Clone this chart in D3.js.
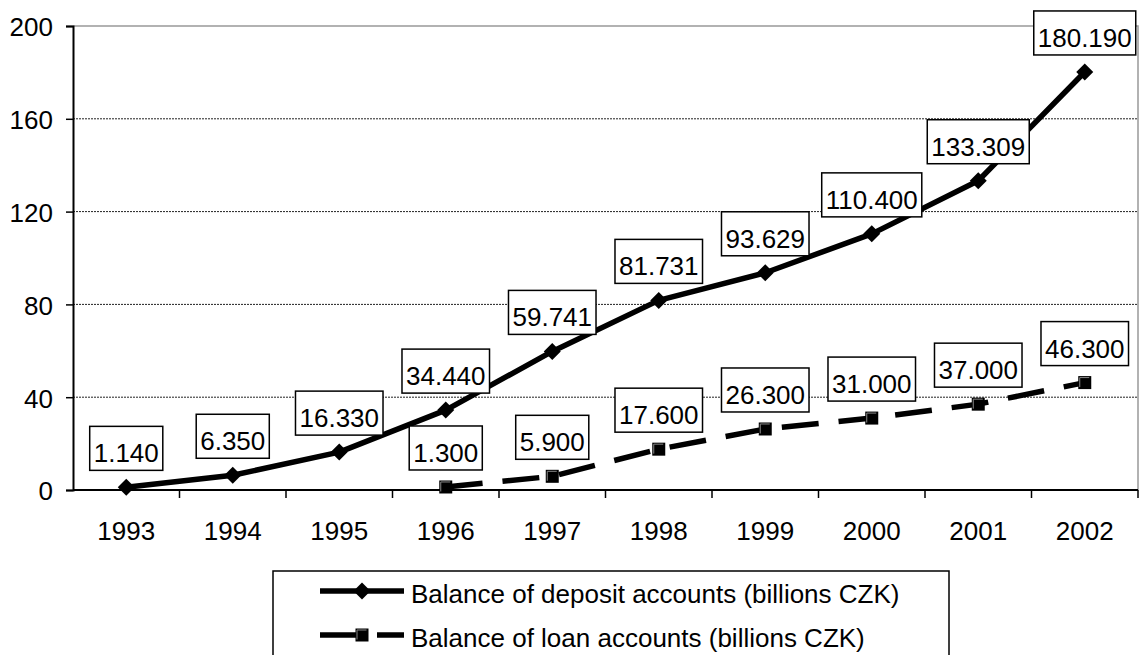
<!DOCTYPE html>
<html>
<head>
<meta charset="utf-8">
<script src="https://cdn.jsdelivr.net/npm/d3@7"></script>
<style>
  body { margin: 0; background: #fff; }
  svg { display: block; font-family: Arial, "Liberation Sans", sans-serif; }
</style>
</head>
<body>
<div class="chart"></div>
<script>
const years = ['1993', '1994', '1995', '1996', '1997', '1998', '1999', '2000', '2001', '2002']
const deposits = [1.140, 6.350, 16.330, 34.440, 59.741, 81.731, 93.629, 110.400, 133.309, 180.190]
const loans = [null, null, null, 1.300, 5.900, 17.600, 26.300, 31.000, 37.000, 46.300]
const yTicks = [0, 40, 80, 120, 160, 200]
const seriesNames = ['Balance of deposit accounts (billions CZK)', 'Balance of loan accounts (billions CZK)']

const WIDTH = 1140
const HEIGHT = 655
const FONT_SIZE = 26
const plot = { left: 73, right: 1138, top: 26, bottom: 490 }
const DASH = '37,20'

const svg = d3.select('.chart').append('svg')
	.attr('width', WIDTH)
	.attr('height', HEIGHT)

const scaleX = d3.scaleBand().domain(years).range([plot.left, plot.right]).padding(0)
const scaleY = d3.scaleLinear().domain([0, 200]).range([plot.bottom, plot.top])
const fmt = d3.format('.3f')
const cx = d => scaleX(d.year) + scaleX.bandwidth() / 2

const depositData = years.map((year, i) => ({ year, value: deposits[i] }))
const loanData = years.map((year, i) => ({ year, value: loans[i] })).filter(d => d.value != null)

// gridlines
svg.append('g').selectAll('line')
	.data(yTicks.filter(t => t > 0 && t < 200))
	.join('line')
	.attr('x1', plot.left).attr('x2', plot.right)
	.attr('y1', d => scaleY(d)).attr('y2', d => scaleY(d))
	.attr('stroke', '#222').attr('stroke-width', 1).attr('stroke-dasharray', '2,1')

// top and right border in grey
svg.append('path')
	.attr('d', `M${plot.left},${scaleY(200)}H${plot.right}V${plot.bottom}`)
	.attr('fill', 'none').attr('stroke', '#999').attr('stroke-width', 1.5)

// y axis
const axisLeft = d3.axisLeft(scaleY).tickValues(yTicks).tickSize(7).tickPadding(13)
const gy = svg.append('g').attr('transform', `translate(${plot.left},0)`).call(axisLeft)
gy.select('.domain').attr('stroke', '#000').attr('stroke-width', 2)
gy.selectAll('.tick line').attr('stroke', '#000').attr('stroke-width', 1.5)
gy.selectAll('.tick text')
	.attr('font-size', FONT_SIZE).attr('font-family', 'Arial, "Liberation Sans", sans-serif')
	.attr('fill', '#000').attr('dy', '0.38em')

// x axis: ticks between categories
const gx = svg.append('g').attr('transform', `translate(0,${plot.bottom})`)
gx.append('line')
	.attr('x1', plot.left).attr('x2', plot.right)
	.attr('stroke', '#000').attr('stroke-width', 2)
gx.selectAll('.tk')
	.data(years.slice(1).concat(['end']))
	.join('line')
	.attr('class', 'tk')
	.attr('x1', (d, i) => plot.left + (i + 1) * scaleX.bandwidth())
	.attr('x2', (d, i) => plot.left + (i + 1) * scaleX.bandwidth())
	.attr('y1', 0).attr('y2', 8)
	.attr('stroke', '#000').attr('stroke-width', 1.5)
gx.selectAll('text')
	.data(years)
	.join('text')
	.attr('x', d => scaleX(d) + scaleX.bandwidth() / 2)
	.attr('y', 50)
	.attr('text-anchor', 'middle')
	.attr('font-size', FONT_SIZE)
	.text(d => d)

// lines
const line = d3.line().x(cx).y(d => scaleY(d.value))

svg.append('path')
	.datum(depositData)
	.attr('d', line)
	.attr('fill', 'none').attr('stroke', '#000').attr('stroke-width', 5.5)
	.attr('stroke-linejoin', 'round')

svg.append('path')
	.datum(loanData)
	.attr('d', line)
	.attr('fill', 'none').attr('stroke', '#000').attr('stroke-width', 5.5)
	.attr('stroke-dasharray', DASH)

// markers
function diamond(g, x, y) {
	const r = 8.5
	g.append('path')
		.attr('d', `M${x},${y - r}L${x + r},${y}L${x},${y + r}L${x - r},${y}Z`)
		.attr('fill', '#000')
}
function square(g, x, y) {
	const s = 13
	g.append('rect')
		.attr('x', x - s / 2).attr('y', y - s / 2)
		.attr('width', s).attr('height', s)
		.attr('fill', '#000')
	g.append('path')
		.attr('d', `M${x - s / 2 + 1.5},${y + s / 2 - 2}V${y - s / 2 + 1.5}H${x + s / 2 - 2}`)
		.attr('fill', 'none').attr('stroke', '#888').attr('stroke-width', 1)
}

const markers = svg.append('g')
depositData.forEach(d => diamond(markers, cx(d), scaleY(d.value)))
loanData.forEach(d => square(markers, cx(d), scaleY(d.value)))

// data labels
const labels = svg.append('g')
	.attr('font-size', FONT_SIZE)

function addLabel(d) {
	const x = cx(d)
	const y = scaleY(d.value)
	const g = labels.append('g')
	const text = g.append('text')
		.attr('x', x).attr('y', y - 25)
		.attr('text-anchor', 'middle')
		.text(fmt(d.value))
	const w = text.node().getComputedTextLength() + 8
	g.insert('rect', 'text')
		.attr('x', x - w / 2).attr('y', y - 61)
		.attr('width', w).attr('height', 44)
		.attr('fill', '#fff').attr('stroke', '#000').attr('stroke-width', 1.5)
}
depositData.forEach(addLabel)
loanData.forEach(addLabel)

// legend
const legend = svg.append('g')
legend.append('rect')
	.attr('x', 273).attr('y', 571)
	.attr('width', 676).attr('height', 120)
	.attr('fill', '#fff').attr('stroke', '#000').attr('stroke-width', 1.5)

const rows = [
	{ name: seriesNames[0], y: 591, dash: null, marker: diamond },
	{ name: seriesNames[1], y: 635, dash: DASH, marker: square },
]
rows.forEach(r => {
	legend.append('line')
		.attr('x1', 320).attr('x2', 404)
		.attr('y1', r.y).attr('y2', r.y)
		.attr('stroke', '#000').attr('stroke-width', 5.5)
		.attr('stroke-dasharray', r.dash)
	r.marker(legend, 362, r.y)
	legend.append('text')
		.attr('x', 411).attr('y', r.y + 12)
		.attr('font-size', FONT_SIZE)
		.text(r.name)
})
</script>
</body>
</html>
